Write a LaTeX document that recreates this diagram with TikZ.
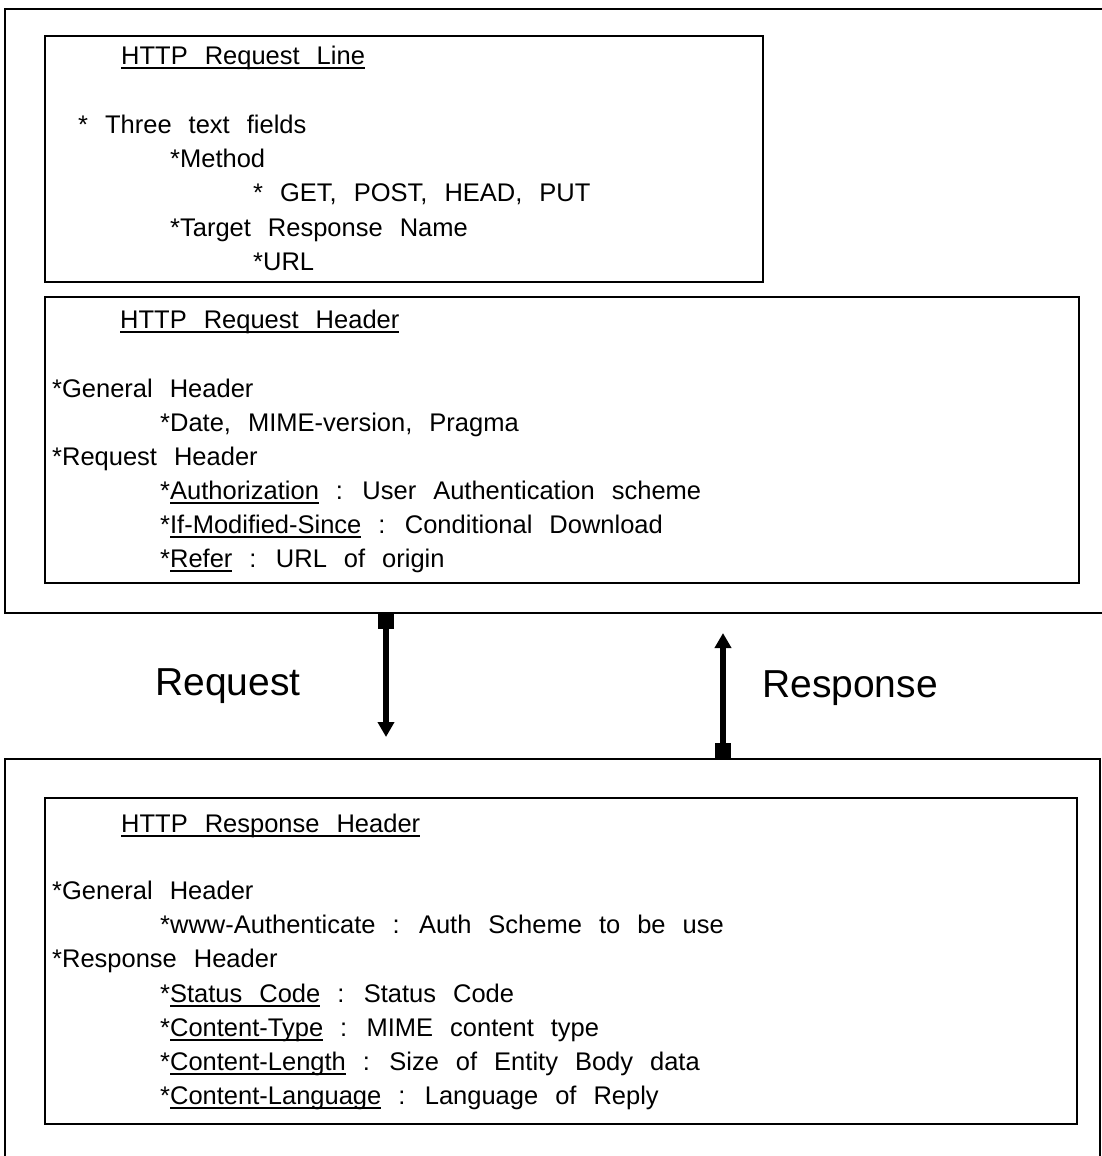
\documentclass[tikz,border=0pt]{standalone}
\usepackage{fontspec}
\setmainfont{Liberation Sans}[WordSpace=2.4]
\usetikzlibrary{arrows.meta}

% underline at a fixed depth, crossing the descenders
\newcommand\ulx[1]{\leavevmode\sbox0{#1}\rlap{\rule[-4.5pt]{\wd0}{1.3pt}}\usebox0}

\tikzset{
  x=1pt, y=-1pt,
  frame/.style={line width=2pt},
  panel/.style={draw, line width=2.4pt, inner sep=0pt},
  txt/.style={anchor=base west, inner sep=0pt, font=\fontsize{25.5}{30}\selectfont},
  biglabel/.style={anchor=base west, inner sep=0pt, font=\fontsize{39}{44}\selectfont},
  flow/.style={line width=6.5pt,
    {Square[length=16pt,width=16pt]}-{Triangle[length=15pt,width=16pt]}},
}

\begin{document}
\begin{tikzpicture}
\useasboundingbox (0,0) rectangle (1102,1156);

% outer frames (client side on top, server side below)
\coordinate (cTL) at (5,9);
\coordinate (cBL) at (5,613);
\draw[frame] (1102,9) -- (cTL) -- (cBL) -- (1102,613);
\coordinate (sTL) at (5,759);
\coordinate (sTR) at (1100,759);
\draw[frame] (5,1156) -- (sTL) -- (sTR) -- (1100,1156);

% inner panels
\node[panel, minimum width=718pt, minimum height=246pt, anchor=north west] (reqline) at (44,35) {};
\node[panel, minimum width=1034pt, minimum height=286pt, anchor=north west] (reqhdr) at (44,296) {};
\node[panel, minimum width=1032pt, minimum height=326pt, anchor=north west] (resphdr) at (44,797) {};

% HTTP request line
\node[txt] (t1) at (121,64) {\ulx{HTTP Request Line}};
\node[txt] (t2) at (78,133) {* Three text fields};
\node[txt] (t3) at (170,167) {*Method};
\node[txt] (t4) at (253,201) {* GET, POST, HEAD, PUT};
\node[txt] (t5) at (170,236) {*Target Response Name};
\node[txt] (t6) at (253,270) {*URL};

% HTTP request header
\node[txt] (h1) at (120,328) {\ulx{HTTP Request Header}};
\node[txt] (h2) at (52,397) {*General Header};
\node[txt] (h3) at (160,431) {*Date, MIME-version, Pragma};
\node[txt] (h4) at (52,465) {*Request Header};
\node[txt] (h5) at (160,499) {*\ulx{Authorization} : User Authentication scheme};
\node[txt] (h6) at (160,533) {*\ulx{If-Modified-Since} : Conditional Download};
\node[txt] (h7) at (160,567) {*\ulx{Refer} : URL of origin};

% HTTP response header
\node[txt] (r1) at (121,832) {\ulx{HTTP Response Header}};
\node[txt] (r2) at (52,899) {*General Header};
\node[txt] (r3) at (160,933) {*www-Authenticate : Auth Scheme to be use};
\node[txt] (r4) at (52,967) {*Response Header};
\node[txt] (r5) at (160,1002) {*\ulx{Status Code} : Status Code};
\node[txt] (r6) at (160,1036) {*\ulx{Content-Type} : MIME content type};
\node[txt] (r7) at (160,1070) {*\ulx{Content-Length} : Size of Entity Body data};
\node[txt] (r8) at (160,1104) {*\ulx{Content-Language} : Language of Reply};

% request / response arrows
\node[biglabel] (lreq) at (155,695) {Request};
\node[biglabel] (lresp) at (762,697) {Response};
\coordinate (reqFrom) at (386,613);
\coordinate (reqTo) at (386,737);
\coordinate (respFrom) at (723,759);
\coordinate (respTo) at (723,633);
\draw[flow] (reqFrom) -- (reqTo);
\draw[flow] (respFrom) -- (respTo);
\end{tikzpicture}
\end{document}
